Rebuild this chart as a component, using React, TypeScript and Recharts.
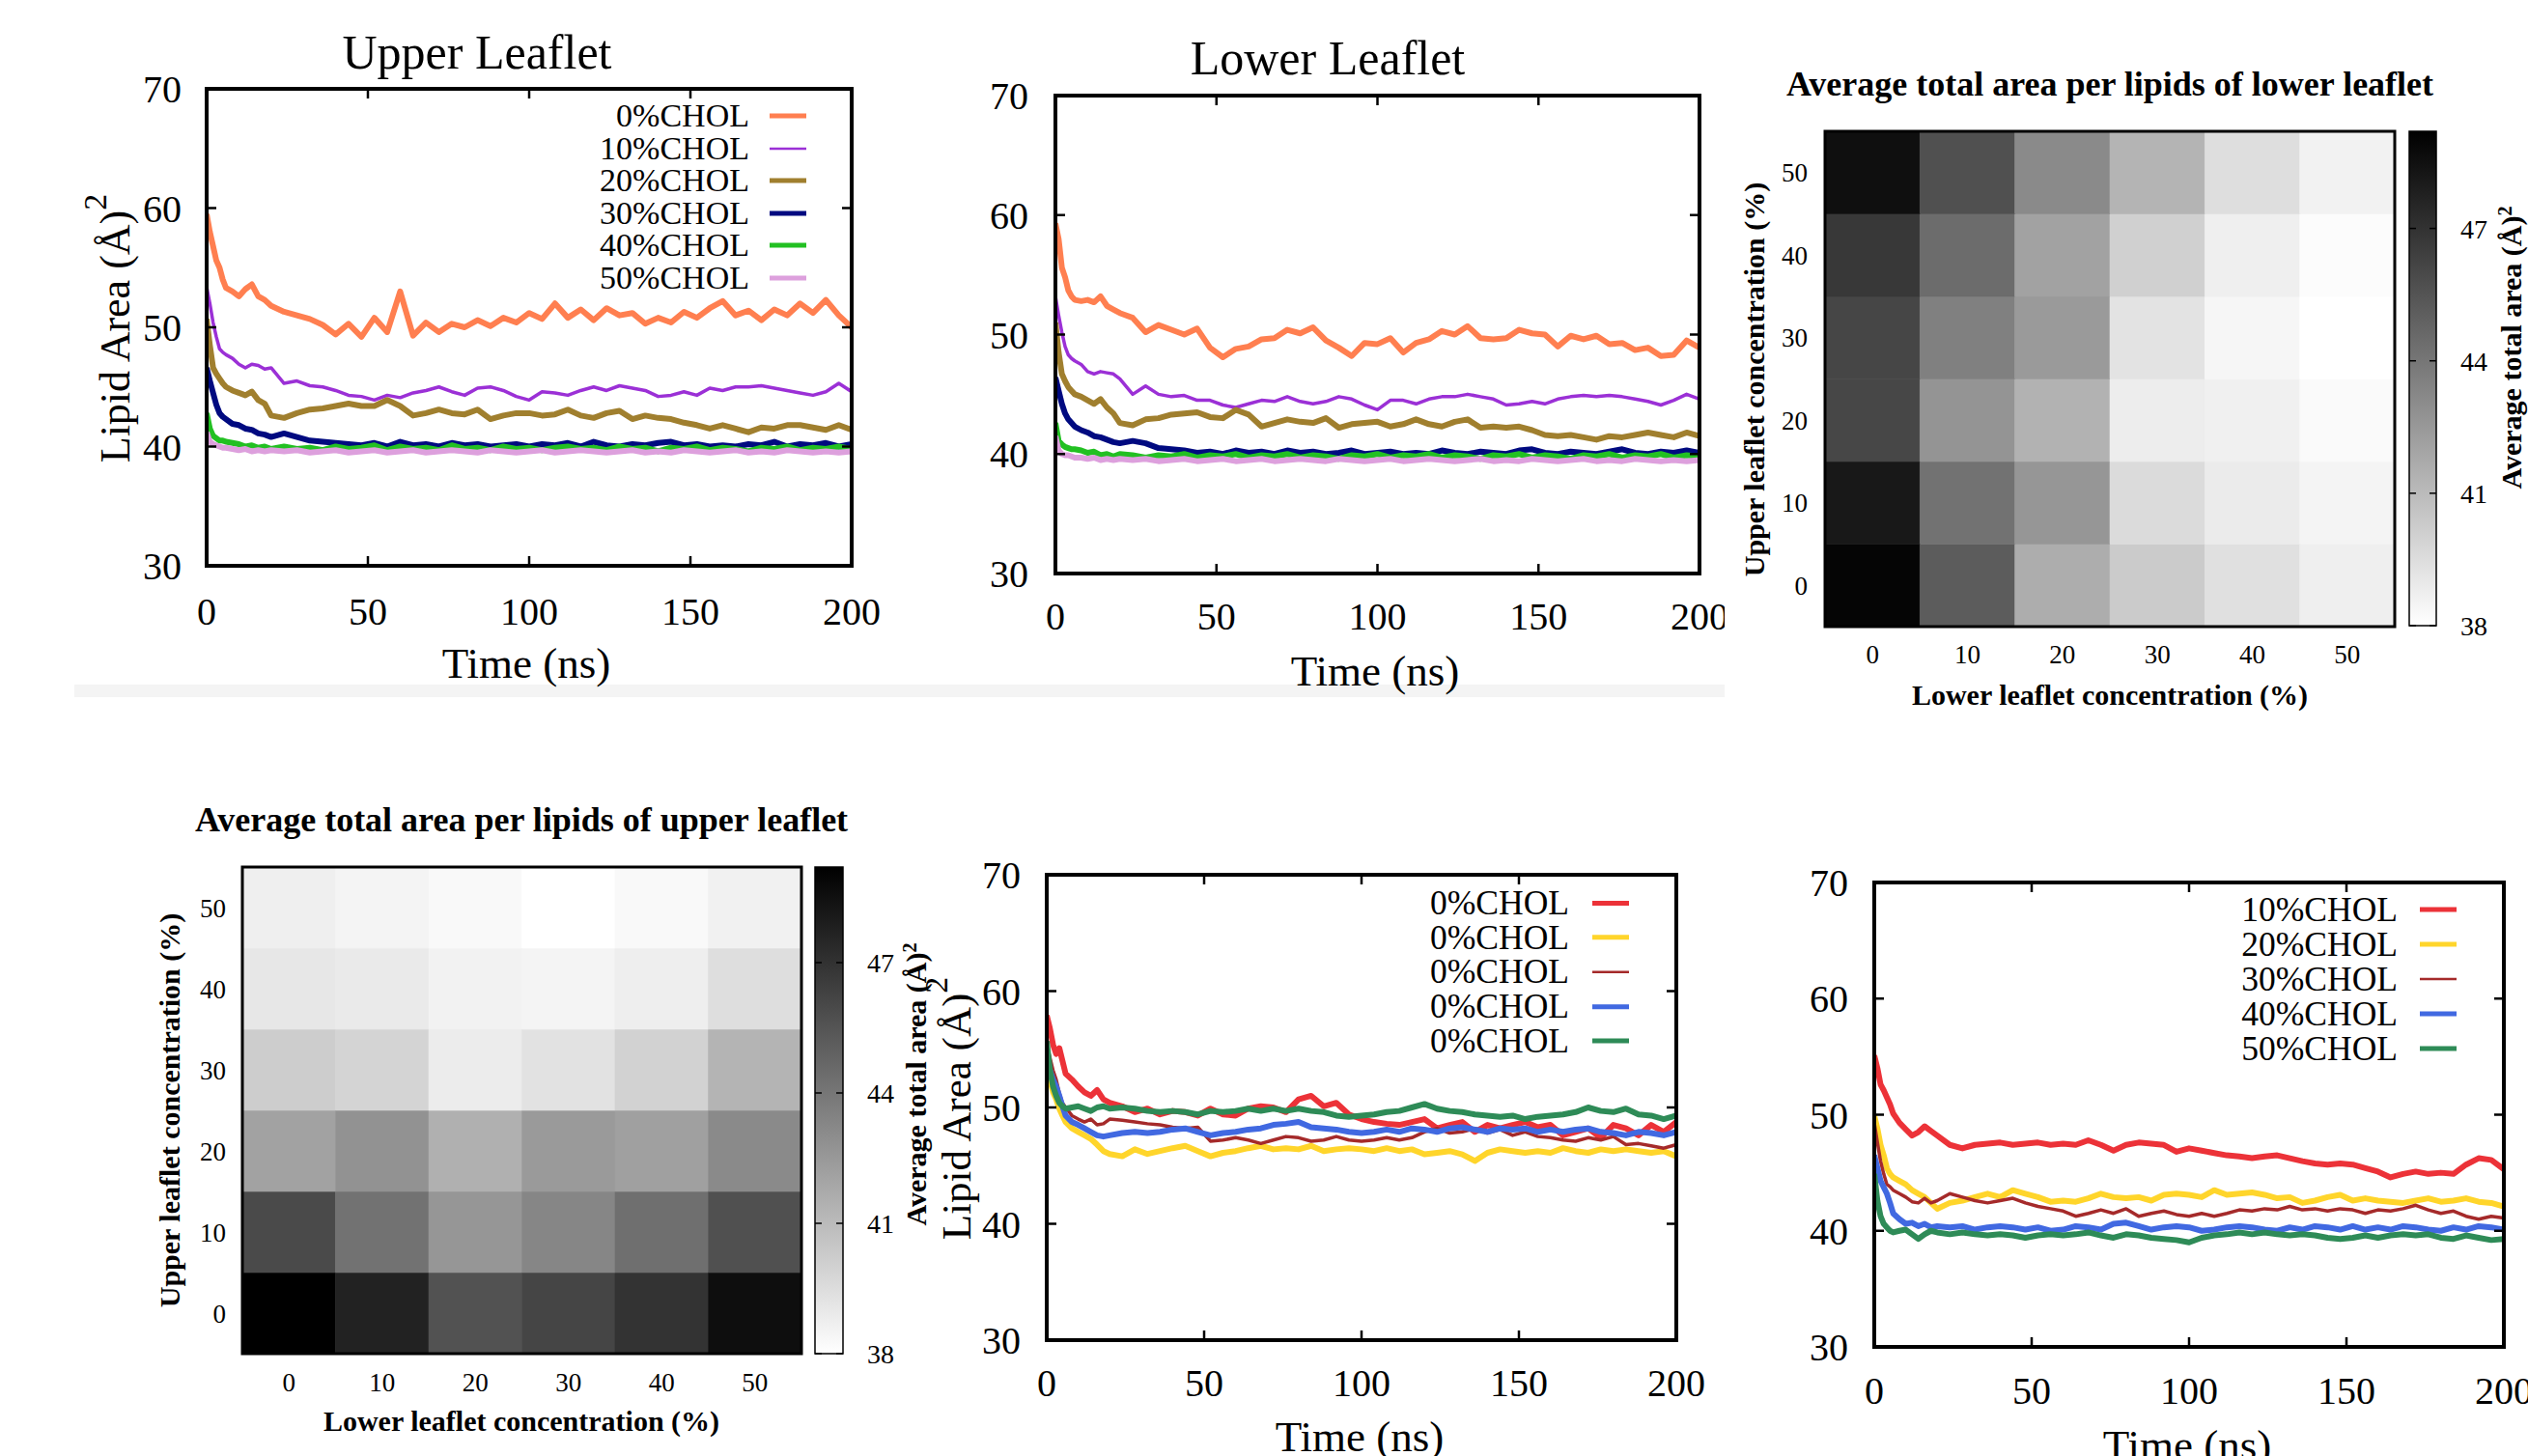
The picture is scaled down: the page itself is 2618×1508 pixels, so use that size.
import React from 'react';
import { LineChart, Line, XAxis, YAxis, ScatterChart, Scatter, ReferenceArea } from 'recharts';

const FONT = '"Liberation Serif", "Times New Roman", Times, serif';

// ---------- time axis (ns) shared by every trajectory ----------
const TIME_NS = [0, 1, 2, 3, 4, 5, 6, 8, 10, 12, 14, 16, 18, 20, 24, 28, 32, 36, 40, 44, 48, 52, 56, 60, 64, 68, 72, 76, 80, 84, 88, 92, 96, 100, 104, 108, 112, 116, 120, 124, 128, 132, 136, 140, 144, 148, 152, 156, 160, 164, 168, 172, 176, 180, 184, 188, 192, 196, 200];
const X_TICKS = [0, 50, 100, 150, 200];
const Y_TICKS = [30, 40, 50, 60, 70];

// ---------- Upper leaflet ----------
const UPPER_0 = [59.5, 58.0, 56.8, 55.6, 55.0, 54.0, 53.3, 53.0, 52.6, 53.2, 53.6, 52.6, 52.3, 51.8, 51.3, 51.0, 50.7, 50.2, 49.4, 50.3, 49.2, 50.8, 49.6, 53.0, 49.3, 50.4, 49.6, 50.3, 50.0, 50.6, 50.1, 50.8, 50.4, 51.2, 50.7, 52.0, 50.8, 51.5, 50.6, 51.6, 51.0, 51.2, 50.3, 50.8, 50.4, 51.3, 50.8, 51.6, 52.2, 51.0, 51.4, 50.6, 51.5, 51.0, 52.0, 51.2, 52.3, 51.0, 50.0];
const UPPER_10 = [53.4, 52.0, 50.4, 49.2, 48.2, 47.9, 47.7, 47.4, 46.9, 46.6, 46.9, 46.8, 46.5, 46.6, 45.3, 45.5, 45.1, 45.0, 44.7, 44.3, 44.2, 43.9, 44.3, 44.1, 44.5, 44.7, 45.0, 44.6, 44.3, 44.9, 45.0, 44.7, 44.2, 43.9, 44.6, 44.5, 44.3, 44.7, 45.0, 44.7, 45.1, 44.9, 44.7, 44.2, 44.3, 44.6, 44.3, 44.9, 44.7, 45.0, 45.0, 45.1, 44.9, 44.7, 44.5, 44.3, 44.6, 45.3, 44.6];
const UPPER_20 = [50.7, 48.5, 46.6, 46.1, 45.7, 45.3, 45.0, 44.7, 44.5, 44.3, 44.6, 43.9, 43.6, 42.6, 42.4, 42.8, 43.1, 43.2, 43.4, 43.6, 43.4, 43.4, 43.9, 43.4, 42.6, 42.8, 43.1, 42.8, 42.7, 43.1, 42.3, 42.6, 42.8, 42.8, 42.6, 42.7, 43.1, 42.6, 42.4, 42.8, 43.0, 42.3, 42.6, 42.4, 42.3, 42.0, 41.8, 41.5, 41.8, 41.5, 41.2, 41.6, 41.5, 41.8, 41.8, 41.6, 41.4, 41.8, 41.4];
const UPPER_30 = [46.6, 45.5, 44.5, 43.5, 42.8, 42.5, 42.3, 41.9, 41.8, 41.5, 41.4, 41.1, 41.0, 40.8, 41.1, 40.8, 40.5, 40.4, 40.3, 40.2, 40.1, 40.3, 40.0, 40.4, 40.1, 40.2, 40.0, 40.3, 40.1, 40.2, 40.0, 40.1, 40.2, 40.0, 40.2, 40.1, 40.3, 40.0, 40.4, 40.1, 40.0, 40.2, 40.1, 40.3, 40.4, 40.1, 40.2, 40.0, 40.1, 40.0, 40.2, 40.1, 40.4, 40.0, 40.2, 40.1, 40.3, 40.0, 40.2];
const UPPER_40 = [42.8, 41.5, 40.9, 40.7, 40.5, 40.5, 40.4, 40.3, 40.2, 40.0, 40.1, 39.9, 40.0, 39.8, 40.0, 39.8, 39.9, 39.7, 40.0, 39.8, 39.9, 40.1, 39.7, 40.0, 39.8, 39.9, 39.7, 40.1, 39.8, 39.9, 39.7, 40.0, 39.8, 39.9, 39.7, 39.9, 40.0, 39.8, 39.9, 39.7, 40.0, 39.8, 39.9, 39.6, 39.9, 39.8, 40.0, 39.7, 39.9, 39.8, 39.6, 39.9, 39.8, 40.0, 39.7, 39.9, 39.8, 40.0, 39.8];
const UPPER_50 = [41.2, 40.4, 40.2, 40.1, 40.0, 39.9, 39.9, 39.8, 39.7, 39.8, 39.6, 39.7, 39.6, 39.7, 39.6, 39.7, 39.5, 39.6, 39.7, 39.5, 39.6, 39.7, 39.5, 39.6, 39.7, 39.5, 39.6, 39.7, 39.6, 39.5, 39.7, 39.6, 39.5, 39.6, 39.7, 39.5, 39.6, 39.7, 39.6, 39.5, 39.6, 39.7, 39.5, 39.6, 39.5, 39.7, 39.6, 39.5, 39.6, 39.7, 39.5, 39.6, 39.5, 39.7, 39.6, 39.5, 39.6, 39.5, 39.6];

// ---------- Lower leaflet ----------
const LOWER_0 = [59.3, 58.0, 55.6, 54.8, 53.7, 53.2, 52.9, 52.8, 52.9, 52.7, 53.2, 52.4, 52.1, 51.8, 51.4, 50.2, 50.8, 50.4, 50.0, 50.5, 48.9, 48.1, 48.8, 49.0, 49.6, 49.7, 50.4, 50.1, 50.6, 49.5, 48.9, 48.2, 49.3, 49.2, 49.7, 48.5, 49.3, 49.6, 50.3, 50.0, 50.7, 49.7, 49.6, 49.7, 50.4, 50.1, 50.0, 49.0, 49.9, 49.6, 49.9, 49.2, 49.3, 48.7, 48.9, 48.2, 48.3, 49.5, 48.9];
const LOWER_10 = [53.2, 51.6, 50.2, 49.0, 48.3, 48.0, 47.8, 47.5, 46.9, 46.7, 46.9, 46.8, 46.7, 46.3, 45.0, 45.7, 45.0, 44.8, 44.9, 44.5, 44.5, 44.1, 43.9, 44.2, 44.5, 44.4, 44.8, 44.4, 44.2, 44.4, 44.8, 44.6, 44.1, 43.7, 44.5, 44.5, 44.2, 44.6, 44.8, 44.8, 45.0, 44.8, 44.6, 44.1, 44.2, 44.4, 44.2, 44.6, 44.8, 44.9, 44.8, 44.9, 44.8, 44.6, 44.4, 44.1, 44.5, 45.0, 44.6];
const LOWER_20 = [51.0, 48.5, 46.7, 46.1, 45.6, 45.3, 45.0, 44.8, 44.5, 44.2, 44.6, 43.9, 43.4, 42.6, 42.4, 42.9, 43.0, 43.3, 43.4, 43.5, 43.1, 43.0, 43.7, 43.3, 42.3, 42.6, 42.9, 42.7, 42.6, 43.0, 42.2, 42.5, 42.6, 42.7, 42.3, 42.5, 42.9, 42.5, 42.3, 42.7, 42.9, 42.2, 42.3, 42.2, 42.3, 42.0, 41.6, 41.5, 41.6, 41.4, 41.2, 41.5, 41.4, 41.6, 41.8, 41.6, 41.4, 41.8, 41.5];
const LOWER_30 = [46.4, 45.3, 44.2, 43.4, 42.9, 42.6, 42.3, 42.0, 41.8, 41.5, 41.4, 41.2, 41.0, 40.9, 41.1, 40.9, 40.5, 40.4, 40.3, 40.1, 40.2, 40.0, 40.3, 40.1, 40.2, 40.0, 40.3, 40.1, 40.2, 40.0, 40.1, 40.3, 40.0, 40.1, 40.2, 40.0, 40.1, 40.0, 40.3, 40.1, 40.0, 40.2, 40.1, 40.0, 40.3, 40.4, 40.1, 40.0, 40.2, 40.1, 40.0, 40.2, 40.4, 40.1, 40.0, 40.2, 40.1, 40.3, 40.1];
const LOWER_40 = [42.6, 41.1, 40.8, 40.6, 40.5, 40.4, 40.4, 40.3, 40.1, 40.2, 39.9, 40.0, 39.8, 40.0, 39.9, 39.7, 39.9, 39.8, 40.0, 39.7, 39.9, 39.8, 40.0, 39.7, 39.9, 39.8, 40.0, 39.7, 39.9, 39.8, 39.6, 39.9, 39.8, 40.0, 39.7, 39.9, 39.8, 40.0, 39.7, 39.9, 39.8, 39.6, 39.9, 39.8, 40.0, 39.7, 39.9, 39.8, 39.6, 39.9, 39.8, 40.0, 39.7, 39.9, 39.8, 40.0, 39.7, 39.9, 39.8];
const LOWER_50 = [41.5, 40.3, 40.0, 39.9, 39.9, 39.8, 39.7, 39.7, 39.6, 39.7, 39.5, 39.6, 39.5, 39.6, 39.5, 39.6, 39.4, 39.5, 39.6, 39.4, 39.5, 39.6, 39.4, 39.5, 39.6, 39.4, 39.5, 39.6, 39.5, 39.4, 39.6, 39.5, 39.4, 39.5, 39.6, 39.4, 39.5, 39.6, 39.5, 39.4, 39.5, 39.6, 39.4, 39.5, 39.4, 39.6, 39.5, 39.4, 39.5, 39.6, 39.4, 39.5, 39.4, 39.6, 39.5, 39.4, 39.5, 39.4, 39.5];

// ---------- bottom-middle panel (all labelled 0%CHOL) ----------
const MIX_RED = [57.9, 56.8, 55.4, 54.6, 55.1, 54.0, 52.9, 52.4, 51.8, 51.3, 51.0, 51.5, 50.7, 50.4, 50.1, 49.6, 49.9, 49.4, 49.7, 49.6, 49.3, 49.9, 49.4, 49.3, 49.9, 50.1, 50.0, 49.6, 50.7, 51.0, 50.1, 50.4, 49.4, 49.0, 48.75, 48.6, 48.5, 48.75, 49.0, 48.2, 48.5, 48.75, 47.9, 48.5, 48.2, 48.5, 48.75, 48.3, 48.5, 47.6, 47.9, 48.2, 47.4, 48.5, 48.2, 47.6, 48.5, 47.9, 48.75];
const MIX_GOLD = [54.0, 52.4, 51.3, 50.7, 49.9, 49.3, 48.75, 48.2, 47.9, 47.6, 47.3, 46.8, 46.25, 46.0, 45.8, 46.4, 46.0, 46.25, 46.5, 46.7, 46.25, 45.8, 46.1, 46.25, 46.5, 46.7, 46.4, 46.5, 46.4, 46.7, 46.25, 46.4, 46.5, 46.4, 46.25, 46.5, 46.25, 46.4, 45.97, 46.1, 46.25, 45.97, 45.4, 46.1, 46.4, 46.25, 46.1, 46.25, 46.1, 46.5, 46.25, 46.1, 46.4, 46.25, 46.4, 46.25, 46.1, 46.25, 45.8];
const MIX_BROWN = [55.4, 54.3, 53.2, 52.4, 51.25, 50.4, 50.0, 49.3, 49.0, 48.75, 49.0, 48.5, 48.6, 49.0, 48.9, 48.75, 48.6, 48.5, 48.3, 48.2, 48.3, 47.1, 47.2, 47.4, 47.2, 46.9, 47.2, 47.5, 47.4, 47.1, 47.2, 47.5, 47.2, 47.1, 47.2, 47.4, 47.2, 47.4, 47.9, 48.2, 47.8, 47.9, 48.2, 47.8, 48.1, 47.6, 47.9, 47.5, 47.4, 47.2, 47.1, 47.4, 47.2, 47.5, 46.8, 46.9, 46.7, 46.5, 46.8];
const MIX_BLUE = [54.6, 53.2, 52.4, 51.8, 51.0, 50.1, 49.3, 48.75, 48.5, 48.2, 47.9, 47.6, 47.5, 47.6, 47.8, 47.9, 47.8, 47.9, 48.1, 48.2, 47.9, 47.6, 47.8, 47.9, 48.1, 48.2, 48.5, 48.6, 48.75, 48.3, 48.2, 48.1, 47.9, 47.8, 47.9, 48.1, 47.9, 48.2, 48.1, 47.9, 48.2, 48.3, 48.1, 47.9, 48.2, 48.1, 48.2, 47.9, 48.1, 47.9, 48.1, 48.2, 47.9, 47.8, 47.6, 47.9, 47.8, 47.6, 47.9];
const MIX_GREEN = [55.7, 53.2, 51.8, 51.0, 50.4, 50.1, 49.9, 50.0, 50.1, 49.9, 49.7, 50.0, 50.1, 49.9, 50.0, 49.9, 49.7, 49.6, 49.7, 49.6, 49.4, 49.7, 49.6, 49.7, 49.9, 49.7, 49.9, 49.7, 49.9, 49.7, 49.6, 49.3, 49.2, 49.3, 49.4, 49.6, 49.7, 50.0, 50.3, 49.9, 49.7, 49.6, 49.4, 49.3, 49.2, 49.3, 49.0, 49.2, 49.3, 49.4, 49.6, 50.0, 49.7, 49.6, 49.9, 49.4, 49.3, 49.0, 49.3];

// ---------- bottom-right panel ----------
const CHOL_10 = [55.1, 54.0, 52.6, 52.1, 51.5, 50.9, 50.1, 49.3, 48.75, 48.2, 48.5, 49.0, 48.6, 48.2, 47.4, 47.1, 47.4, 47.5, 47.6, 47.4, 47.5, 47.6, 47.4, 47.5, 47.4, 47.8, 47.4, 46.9, 47.4, 47.6, 47.5, 47.4, 46.8, 47.1, 46.9, 46.7, 46.5, 46.4, 46.25, 46.4, 46.5, 46.25, 46.0, 45.8, 45.7, 45.8, 45.7, 45.4, 45.1, 44.6, 44.9, 45.1, 44.9, 45.0, 44.9, 45.7, 46.25, 46.1, 45.3];
const CHOL_20 = [49.9, 48.8, 47.4, 46.5, 45.4, 44.9, 44.6, 44.3, 44.0, 43.5, 43.2, 42.9, 42.4, 41.9, 42.4, 42.6, 42.9, 43.2, 42.9, 43.5, 43.2, 42.9, 42.5, 42.6, 42.5, 42.8, 43.2, 42.9, 42.8, 42.9, 42.6, 43.1, 43.2, 43.1, 42.9, 43.5, 43.1, 43.2, 43.3, 43.1, 42.8, 42.9, 42.4, 42.6, 42.9, 43.1, 42.6, 42.8, 42.6, 42.5, 42.4, 42.6, 42.8, 42.5, 42.6, 42.8, 42.5, 42.4, 42.1];
const CHOL_30 = [49.3, 47.6, 46.0, 44.9, 44.0, 43.8, 43.5, 43.2, 42.9, 42.5, 42.4, 42.8, 42.4, 42.6, 43.2, 42.9, 42.6, 42.4, 42.6, 42.8, 42.4, 42.1, 41.9, 41.7, 41.25, 41.5, 41.8, 41.5, 41.9, 41.25, 41.5, 41.7, 41.4, 41.25, 41.5, 41.25, 41.5, 41.8, 41.7, 41.9, 41.8, 42.1, 41.8, 41.9, 41.7, 41.9, 41.8, 41.5, 41.8, 41.7, 41.9, 42.2, 41.8, 41.5, 41.7, 41.25, 41.0, 41.25, 41.1];
const CHOL_40 = [46.5, 45.4, 44.3, 43.75, 43.2, 42.4, 41.5, 41.0, 40.6, 40.7, 40.4, 40.6, 40.3, 40.4, 40.3, 40.4, 40.1, 40.3, 40.4, 40.3, 40.1, 40.3, 40.0, 40.1, 40.4, 40.3, 40.1, 40.6, 40.7, 40.4, 40.1, 40.3, 40.4, 40.3, 40.0, 40.1, 40.3, 40.4, 40.3, 40.1, 40.0, 40.3, 40.1, 40.4, 40.3, 40.1, 40.4, 40.1, 40.3, 40.1, 40.4, 40.3, 40.1, 40.0, 40.3, 40.1, 40.4, 40.3, 40.1];
const CHOL_50 = [44.9, 42.6, 41.25, 40.6, 40.3, 40.0, 39.86, 40.0, 40.1, 39.7, 39.3, 39.7, 40.0, 39.86, 39.7, 39.86, 39.7, 39.6, 39.7, 39.6, 39.4, 39.6, 39.7, 39.6, 39.7, 39.86, 39.6, 39.4, 39.7, 39.6, 39.4, 39.3, 39.2, 39.0, 39.4, 39.6, 39.7, 39.86, 39.7, 39.86, 39.7, 39.6, 39.7, 39.6, 39.4, 39.3, 39.4, 39.6, 39.4, 39.6, 39.7, 39.6, 39.7, 39.4, 39.3, 39.6, 39.4, 39.2, 39.3];

// ---------- heatmaps: rows = upper leaflet %, columns = lower leaflet % ----------
const CONC = [0, 10, 20, 30, 40, 50];
const LOWER_AVG_U0 = [48.98, 45.16, 41.6, 40.28, 39.36, 38.7];
const LOWER_AVG_U10 = [48.15, 44.19, 42.61, 39.58, 38.88, 38.48];
const LOWER_AVG_U20 = [46.08, 42.7, 41.38, 38.79, 38.66, 38.22];
const LOWER_AVG_U30 = [46.13, 43.58, 42.44, 39.23, 38.4, 38.0];
const LOWER_AVG_U40 = [46.74, 44.46, 42.08, 40.06, 38.7, 38.13];
const LOWER_AVG_U50 = [48.54, 45.69, 43.14, 41.29, 39.45, 38.57];

const UPPER_AVG_U0 = [49.2, 47.71, 45.6, 46.17, 46.96, 48.58];
const UPPER_AVG_U10 = [45.95, 44.19, 42.61, 43.31, 44.32, 45.69];
const UPPER_AVG_U20 = [42.08, 42.79, 41.47, 42.44, 42.17, 43.14];
const UPPER_AVG_U30 = [40.2, 39.89, 38.83, 39.27, 39.98, 41.29];
const UPPER_AVG_U40 = [39.05, 38.92, 38.57, 38.48, 38.75, 39.45];
const UPPER_AVG_U50 = [38.7, 38.48, 38.26, 38.0, 38.26, 38.61];

const CB_MIN = 38;
const CB_MAX = 49.2;
const CB_TICKS = [38, 41, 44, 47];

// ---------- colours ----------
const C_CORAL = '#ff7f50';
const C_VIOLET = '#9b30d6';
const C_OCHRE = '#a07f2e';
const C_NAVY = '#000a80';
const C_LIME = '#22c022';
const C_PLUM = '#dda0dd';
const C_RED = '#ec3238';
const C_GOLD = '#ffd52b';
const C_BROWN = '#a52a2a';
const C_BLUE = '#4169e1';
const C_SEA = '#2e8b57';

type SeriesDef = { name: string; values: number[]; color: string; thick: boolean };

const UPPER_SERIES: SeriesDef[] = [
  { name: '0%CHOL', values: UPPER_0, color: C_CORAL, thick: true },
  { name: '10%CHOL', values: UPPER_10, color: C_VIOLET, thick: false },
  { name: '20%CHOL', values: UPPER_20, color: C_OCHRE, thick: true },
  { name: '30%CHOL', values: UPPER_30, color: C_NAVY, thick: true },
  { name: '40%CHOL', values: UPPER_40, color: C_LIME, thick: true },
  { name: '50%CHOL', values: UPPER_50, color: C_PLUM, thick: true },
];
const LOWER_SERIES: SeriesDef[] = [
  { name: '0%CHOL', values: LOWER_0, color: C_CORAL, thick: true },
  { name: '10%CHOL', values: LOWER_10, color: C_VIOLET, thick: false },
  { name: '20%CHOL', values: LOWER_20, color: C_OCHRE, thick: true },
  { name: '30%CHOL', values: LOWER_30, color: C_NAVY, thick: true },
  { name: '40%CHOL', values: LOWER_40, color: C_LIME, thick: true },
  { name: '50%CHOL', values: LOWER_50, color: C_PLUM, thick: true },
];
const MIX_SERIES: SeriesDef[] = [
  { name: '0%CHOL', values: MIX_RED, color: C_RED, thick: true },
  { name: '0%CHOL', values: MIX_GOLD, color: C_GOLD, thick: true },
  { name: '0%CHOL', values: MIX_BROWN, color: C_BROWN, thick: false },
  { name: '0%CHOL', values: MIX_BLUE, color: C_BLUE, thick: true },
  { name: '0%CHOL', values: MIX_GREEN, color: C_SEA, thick: true },
];
const CHOL_SERIES: SeriesDef[] = [
  { name: '10%CHOL', values: CHOL_10, color: C_RED, thick: true },
  { name: '20%CHOL', values: CHOL_20, color: C_GOLD, thick: true },
  { name: '30%CHOL', values: CHOL_30, color: C_BROWN, thick: false },
  { name: '40%CHOL', values: CHOL_40, color: C_BLUE, thick: true },
  { name: '50%CHOL', values: CHOL_50, color: C_SEA, thick: true },
];

const grayFor = (v: number) => {
  const t = Math.max(0, Math.min(1, (v - CB_MIN) / (CB_MAX - CB_MIN)));
  const g = Math.round(255 * (1 - t));
  return `rgb(${g},${g},${g})`;
};

const EmptyTick = () => <g />;
const EmptyShape = () => <g />;

type Frame = { x: number; y: number; w: number; h: number };

function LinePanel({ frame, series, yMargin, xMargin }: { frame: Frame; series: SeriesDef[]; yMargin: number; xMargin: number }) {
  const AXL = 120, AXR = 4, AXT = 4, AXB = 80, PADT = 30, PADR = 44;
  const data = TIME_NS.map((t, i) => {
    const row: Record<string, number> = { t };
    series.forEach((s, k) => { row['s' + k] = s.values[i]; });
    return row;
  });
  const axisLine = { stroke: '#000', strokeWidth: 4, strokeLinecap: 'square' as const };
  const tickLine = { stroke: '#000', strokeWidth: 2.5 };
  const tickFont = { fontFamily: FONT, fontSize: 40, fill: '#000' };
  return (
    <div style={{ position: 'absolute', left: frame.x - AXL, top: frame.y - AXT - PADT }}>
      <LineChart width={frame.w + AXL + AXR + PADR} height={frame.h + AXT + AXB + PADT} data={data} margin={{ top: PADT, right: PADR, bottom: 0, left: 0 }}>
        <XAxis xAxisId="bottom" dataKey="t" type="number" domain={[0, 200]} ticks={X_TICKS} interval={0} allowDataOverflow height={AXB} axisLine={axisLine} tickLine={tickLine} tickSize={-10} tickMargin={xMargin} tick={tickFont} />
        <XAxis xAxisId="top" orientation="top" dataKey="t" type="number" domain={[0, 200]} ticks={X_TICKS} interval={0} allowDataOverflow height={AXT} axisLine={axisLine} tickLine={tickLine} tickSize={-10} tick={EmptyTick} />
        <YAxis yAxisId="left" type="number" domain={[30, 70]} ticks={Y_TICKS} interval={0} allowDataOverflow width={AXL} axisLine={axisLine} tickLine={tickLine} tickSize={-10} tickMargin={yMargin} tick={tickFont} />
        <YAxis yAxisId="right" orientation="right" type="number" domain={[30, 70]} ticks={Y_TICKS} interval={0} allowDataOverflow width={AXR} axisLine={axisLine} tickLine={tickLine} tickSize={-10} tick={EmptyTick} />
        {series.map((s, k) => (
          <Line key={k} xAxisId="bottom" yAxisId="left" type="linear" dataKey={'s' + k} stroke={s.color} strokeWidth={s.thick ? 6 : 3.5} dot={false} activeDot={false} isAnimationActive={false} strokeLinejoin="round" />
        ))}
      </LineChart>
    </div>
  );
}

function Heatmap({ frame, rows, yGap, xGap }: { frame: Frame; rows: number[][]; yGap: number; xGap: number }) {
  const AXL = 60, AXB = 60, PAD = 20;
  const cells: { x: number; y: number; v: number }[] = [];
  rows.forEach((rowVals, r) => rowVals.forEach((v, c) => cells.push({ x: CONC[c], y: CONC[r], v })));
  const tickFont = { fontFamily: FONT, fontSize: 27, fill: '#000' };
  return (
    <div style={{ position: 'absolute', left: frame.x - AXL, top: frame.y - PAD }}>
      <ScatterChart width={frame.w + AXL + PAD} height={frame.h + PAD + AXB} margin={{ top: PAD, right: PAD, bottom: 0, left: 0 }}>
        <XAxis dataKey="x" type="number" domain={[-5, 55]} ticks={CONC} interval={0} allowDataOverflow height={AXB} axisLine={false} tickLine={false} tickSize={0} tickMargin={xGap} tick={tickFont} />
        <YAxis dataKey="y" type="number" domain={[-5, 55]} ticks={CONC} interval={0} allowDataOverflow width={AXL} axisLine={false} tickLine={false} tickSize={0} tickMargin={yGap} tick={tickFont} />
        <Scatter data={cells} shape={EmptyShape} isAnimationActive={false} />
        {cells.map((cell, i) => (
          <ReferenceArea key={i} x1={cell.x - 5} x2={cell.x + 5} y1={cell.y - 5} y2={cell.y + 5} fill={grayFor(cell.v)} fillOpacity={1} stroke={grayFor(cell.v)} strokeWidth={0.6} />
        ))}
        <ReferenceArea x1={-5} x2={55} y1={-5} y2={55} fill="none" fillOpacity={0} stroke="#000" strokeWidth={3} />
      </ScatterChart>
    </div>
  );
}

function ColorBar({ frame, gradId }: { frame: Frame; gradId: string }) {
  const LW = 2, RW = 90, PAD = 24;
  const tickLine = { stroke: '#000', strokeWidth: 1.5 };
  return (
    <div style={{ position: 'absolute', left: frame.x - LW, top: frame.y - PAD }}>
      <ScatterChart width={frame.w + LW + RW} height={frame.h + 2 * PAD} margin={{ top: PAD, right: 0, bottom: PAD, left: 0 }}>
        <defs>
          <linearGradient id={gradId} x1="0" y1="0" x2="0" y2="1">
            <stop offset="0%" stopColor={grayFor(CB_MAX)} />
            <stop offset="100%" stopColor={grayFor(CB_MIN)} />
          </linearGradient>
        </defs>
        <XAxis dataKey="x" type="number" domain={[0, 1]} hide allowDataOverflow />
        <YAxis yAxisId="cbl" dataKey="y" orientation="left" type="number" domain={[CB_MIN, CB_MAX]} ticks={CB_TICKS} interval={0} allowDataOverflow width={LW} axisLine={false} tickLine={tickLine} tickSize={-7} tick={EmptyTick} />
        <YAxis yAxisId="cbr" dataKey="y" orientation="right" type="number" domain={[CB_MIN, CB_MAX]} ticks={CB_TICKS} interval={0} allowDataOverflow width={RW} axisLine={false} tickLine={tickLine} tickSize={-7} tickMargin={32} tick={{ fontFamily: FONT, fontSize: 28, fill: '#000' }} />
        <Scatter yAxisId="cbr" data={[{ x: 0.5, y: CB_MIN }]} shape={EmptyShape} isAnimationActive={false} />
        <ReferenceArea yAxisId="cbr" x1={0} x2={1} y1={CB_MIN} y2={CB_MAX} fill={`url(#${gradId})`} fillOpacity={1} stroke="#000" strokeWidth={1.5} />
      </ScatterChart>
    </div>
  );
}

type LegendCfg = { textRight: number; x1: number; x2: number; rows: number[]; fontSize: number };

function LegendSvg({ series, cfg }: { series: SeriesDef[]; cfg: LegendCfg }) {
  return (
    <g>
      {series.map((s, i) => (
        <g key={i}>
          <text x={cfg.textRight} y={cfg.rows[i] + cfg.fontSize * 0.33} textAnchor="end" fontSize={cfg.fontSize} fill="#000">{s.name}</text>
          <line x1={cfg.x1} x2={cfg.x2} y1={cfg.rows[i]} y2={cfg.rows[i]} stroke={s.color} strokeWidth={s.thick ? 5 : 2.5} />
        </g>
      ))}
    </g>
  );
}

const P1: Frame = { x: 214, y: 92, w: 668, h: 494 };
const P2: Frame = { x: 1093, y: 99, w: 667, h: 495 };
const P5: Frame = { x: 1084, y: 906, w: 652, h: 482 };
const P6: Frame = { x: 1941, y: 914, w: 652, h: 481 };
const HM_LOWER: Frame = { x: 1890, y: 136, w: 590, h: 513 };
const CB_LOWER: Frame = { x: 2495, y: 136, w: 28, h: 512 };
const HM_UPPER: Frame = { x: 251, y: 898, w: 579, h: 504 };
const CB_UPPER: Frame = { x: 844, y: 898, w: 29, h: 504 };

export default function App() {
  const lowerRows = [LOWER_AVG_U0, LOWER_AVG_U10, LOWER_AVG_U20, LOWER_AVG_U30, LOWER_AVG_U40, LOWER_AVG_U50];
  const upperRows = [UPPER_AVG_U0, UPPER_AVG_U10, UPPER_AVG_U20, UPPER_AVG_U30, UPPER_AVG_U40, UPPER_AVG_U50];
  return (
    <div style={{ position: 'absolute', left: 0, top: 0, width: 2618, height: 1508, overflow: 'hidden', background: '#fff', fontFamily: FONT }}>
      <div style={{ position: 'absolute', left: 77, top: 709, width: 1709, height: 13, background: '#f4f4f4' }} />
      <LinePanel frame={P1} series={UPPER_SERIES} yMargin={36} xMargin={43} />
      <LinePanel frame={P2} series={LOWER_SERIES} yMargin={38} xMargin={40} />
      <div style={{ position: 'absolute', left: 1786, top: 0, width: 832, height: 770, background: '#fff' }} />
      <Heatmap frame={HM_LOWER} rows={lowerRows} yGap={18} xGap={19} />
      <ColorBar frame={CB_LOWER} gradId="cbLower" />
      <Heatmap frame={HM_UPPER} rows={upperRows} yGap={17} xGap={20} />
      <ColorBar frame={CB_UPPER} gradId="cbUpper" />
      <LinePanel frame={P5} series={MIX_SERIES} yMargin={37} xMargin={40} />
      <LinePanel frame={P6} series={CHOL_SERIES} yMargin={37} xMargin={41} />
      <svg width={2618} height={1508} style={{ position: 'absolute', left: 0, top: 0, pointerEvents: 'none' }} fontFamily={FONT}>
        {/* top-left */}
        <text x={494} y={71} textAnchor="middle" fontSize={50}>Upper Leaflet</text>
        <text transform="translate(134,340) rotate(-90)" textAnchor="middle" fontSize={44}>Lipid Area (Å)<tspan dy={-24} fontSize={34}>2</tspan></text>
        <text x={545} y={702} textAnchor="middle" fontSize={45}>Time (ns)</text>
        <LegendSvg series={UPPER_SERIES} cfg={{ textRight: 776, x1: 797, x2: 835, rows: [120, 154, 187, 221, 254, 288], fontSize: 34 }} />
        {/* top-middle */}
        <text x={1375} y={77} textAnchor="middle" fontSize={50}>Lower Leaflet</text>
        <text x={1424} y={710} textAnchor="middle" fontSize={45}>Time (ns)</text>
        {/* top-right heatmap */}
        <text x={2185} y={99} textAnchor="middle" fontSize={36} fontWeight="bold">Average total area per lipids of lower leaflet</text>
        <text x={2185} y={730} textAnchor="middle" fontSize={30} fontWeight="bold">Lower leaflet concentration (%)</text>
        <text transform="translate(1827,393) rotate(-90)" textAnchor="middle" fontSize={30} fontWeight="bold">Upper leaflet concentration (%)</text>
        <text transform="translate(2611,360) rotate(-90)" textAnchor="middle" fontSize={30} fontWeight="bold">Average total area (Å)<tspan dy={-10} fontSize={20}>2</tspan></text>
        {/* bottom-left heatmap */}
        <text x={540} y={861} textAnchor="middle" fontSize={36} fontWeight="bold">Average total area per lipids of upper leaflet</text>
        <text x={540} y={1482} textAnchor="middle" fontSize={30} fontWeight="bold">Lower leaflet concentration (%)</text>
        <text transform="translate(186,1150) rotate(-90)" textAnchor="middle" fontSize={30} fontWeight="bold">Upper leaflet concentration (%)</text>
        <text transform="translate(959,1123) rotate(-90)" textAnchor="middle" fontSize={30} fontWeight="bold">Average total area (Å)<tspan dy={-10} fontSize={20}>2</tspan></text>
        {/* bottom-middle */}
        <text transform="translate(1005,1148) rotate(-90)" textAnchor="middle" fontSize={43}>Lipid Area (Å)<tspan dy={-24} fontSize={34}>2</tspan></text>
        <text x={1408} y={1503} textAnchor="middle" fontSize={45}>Time (ns)</text>
        <LegendSvg series={MIX_SERIES} cfg={{ textRight: 1625, x1: 1649, x2: 1687, rows: [935.6, 970.8, 1006.7, 1042.7, 1078], fontSize: 35.5 }} />
        {/* bottom-right */}
        <text x={2265} y={1512} textAnchor="middle" fontSize={45}>Time (ns)</text>
        <LegendSvg series={CHOL_SERIES} cfg={{ textRight: 2483, x1: 2506, x2: 2544, rows: [942, 978, 1014, 1050, 1086], fontSize: 35.5 }} />
      </svg>
    </div>
  );
}
